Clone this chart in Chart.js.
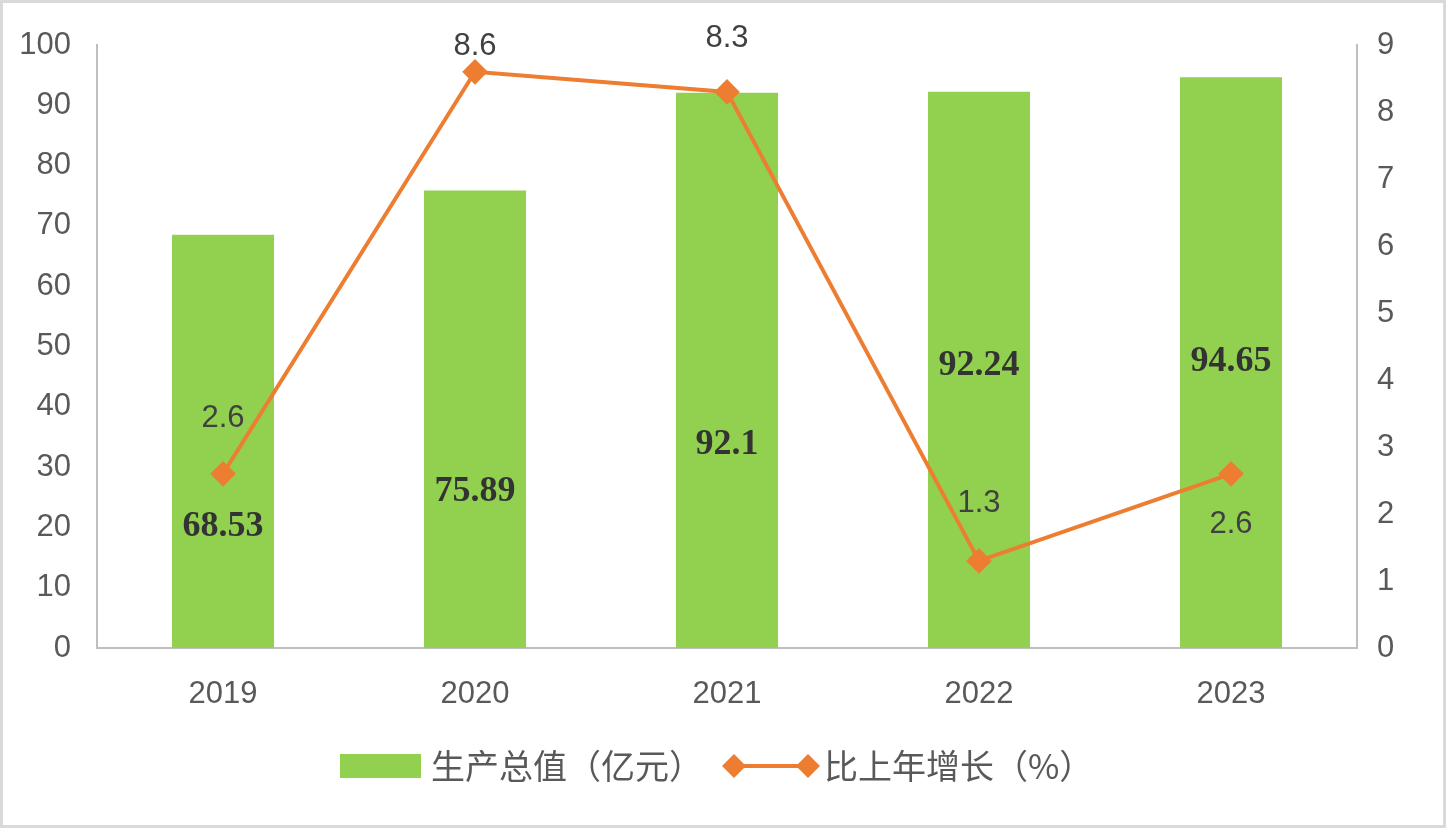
<!DOCTYPE html>
<html lang="zh">
<head>
<meta charset="utf-8">
<title>生产总值及增长</title>
<script src="https://cdn.jsdelivr.net/npm/chart.js@4.4.1/dist/chart.umd.min.js"></script>
<style>
  html, body { margin: 0; padding: 0; background: #fff; }
  #wrap { width: 1446px; height: 828px; position: relative; }
</style>
</head>
<body>
<div id="wrap"><canvas id="chart"></canvas></div>
<script>
// Datos del gráfico
const years = ['2019', '2020', '2021', '2022', '2023'];
const outputValue = [68.53, 75.89, 92.1, 92.24, 94.65];   // 生产总值（亿元）
const growthRate = [2.6, 8.6, 8.3, 1.3, 2.6];             // 比上年增长（%）
const barLabel = '生产总值（亿元）';
const lineLabel = '比上年增长（%）';

// Dónde van las etiquetas (valor del eje izquierdo / desplazamiento en px desde el punto)
const barLabelAt = [20.1, 26.0, 33.7, 46.8, 47.5];
const lineLabelOffset = [-55, -25, -53, -57, 51];

const GREEN = '#92D050';
const ORANGE = '#ED7D31';
const TICK_COLOR = '#595959';
const AXIS_COLOR = '#bfbfbf';
const SANS = '"Liberation Sans", Arial, sans-serif';
const CJK = '"Noto Sans CJK SC", "Noto Sans", sans-serif';

// Fondo y marco gris
const framePlugin = {
    id: 'frame',
    beforeDraw(chart) {
        const ctx = chart.ctx;
        ctx.save();
        ctx.fillStyle = '#fff';
        ctx.fillRect(0, 0, chart.width, chart.height);
        ctx.strokeStyle = '#d9d9d9';
        ctx.lineWidth = 3;
        ctx.strokeRect(1.5, 1.5, chart.width - 3, chart.height - 3);
        ctx.restore();
    }
};

// Etiquetas de datos
const labelsPlugin = {
    id: 'valueLabels',
    afterDatasetsDraw(chart) {
        const ctx = chart.ctx;
        const yScale = chart.scales.y;
        ctx.save();
        ctx.textAlign = 'center';
        ctx.textBaseline = 'middle';

        // barras
        ctx.font = 'bold 36px "Liberation Serif", "Times New Roman", serif';
        ctx.fillStyle = '#333';
        chart.getDatasetMeta(0).data.forEach((bar, i) => {
            ctx.fillText(String(outputValue[i]), bar.x, yScale.getPixelForValue(barLabelAt[i]));
        });

        // línea
        ctx.font = '31px ' + SANS;
        ctx.fillStyle = '#404040';
        chart.getDatasetMeta(1).data.forEach((pt, i) => {
            ctx.fillText(String(growthRate[i]), pt.x, pt.y + lineLabelOffset[i]);
        });
        ctx.restore();
    }
};

// Leyenda dibujada a mano (barra + línea con rombos)
const legendPlugin = {
    id: 'customLegend',
    afterDraw(chart) {
        const ctx = chart.ctx;
        const cy = 766;
        let x = 340;
        ctx.save();
        ctx.font = '34px ' + CJK;
        ctx.textBaseline = 'middle';
        ctx.textAlign = 'left';

        ctx.fillStyle = GREEN;
        ctx.fillRect(x, cy - 12, 81, 24);
        x += 91;
        ctx.fillStyle = TICK_COLOR;
        ctx.fillText(barLabel, x, cy);
        x += ctx.measureText(barLabel).width + 18;

        // línea con rombos
        const lx1 = x + 13, lx2 = x + 87;
        ctx.strokeStyle = ORANGE;
        ctx.lineWidth = 4;
        ctx.beginPath();
        ctx.moveTo(lx1, cy);
        ctx.lineTo(lx2, cy);
        ctx.stroke();
        ctx.fillStyle = ORANGE;
        [lx1, lx2].forEach(dx => {
            ctx.beginPath();
            ctx.moveTo(dx, cy - 12);
            ctx.lineTo(dx + 12, cy);
            ctx.lineTo(dx, cy + 12);
            ctx.lineTo(dx - 12, cy);
            ctx.closePath();
            ctx.fill();
        });
        x = lx2 + 16;
        ctx.fillStyle = TICK_COLOR;
        ctx.fillText(lineLabel, x, cy);
        ctx.restore();
    }
};

new Chart(document.getElementById('chart'), {
    data: {
        labels: years,
        datasets: [
            {
                type: 'bar',
                label: barLabel,
                data: outputValue,
                backgroundColor: GREEN,
                yAxisID: 'y',
                barPercentage: 0.405,
                categoryPercentage: 1,
                order: 2,
            },
            {
                type: 'line',
                label: lineLabel,
                data: growthRate,
                borderColor: ORANGE,
                backgroundColor: ORANGE,
                borderWidth: 4,
                pointStyle: 'rectRot',
                pointRadius: 10,
                pointHoverRadius: 10,
                tension: 0,
                yAxisID: 'y1',
                order: 1,
            },
        ],
    },
    options: {
        responsive: true,
        maintainAspectRatio: false,
        animation: false,
        layout: { padding: { top: 45, left: 0, right: 0, bottom: 0 } },
        plugins: {
            legend: { display: false },
            tooltip: { enabled: false },
        },
        scales: {
            x: {
                grid: { display: false, drawTicks: false },
                border: { color: AXIS_COLOR, width: 2 },
                ticks: { color: TICK_COLOR, font: { family: SANS, size: 31 }, padding: 28 },
                afterFit(scale) { scale.height = 180; },
            },
            y: {
                position: 'left',
                min: 0,
                max: 100,
                grid: { display: false, drawTicks: false },
                border: { color: AXIS_COLOR, width: 2 },
                ticks: { stepSize: 10, color: TICK_COLOR, font: { family: SANS, size: 31 }, padding: 26 },
                afterFit(scale) { scale.width = 97; },
            },
            y1: {
                position: 'right',
                min: 0,
                max: 9,
                grid: { display: false, drawTicks: false },
                border: { color: AXIS_COLOR, width: 2 },
                ticks: { stepSize: 1, color: TICK_COLOR, font: { family: SANS, size: 31 }, padding: 20 },
                afterFit(scale) { scale.width = 89; },
            },
        },
    },
    plugins: [framePlugin, labelsPlugin, legendPlugin],
});
</script>
</body>
</html>
